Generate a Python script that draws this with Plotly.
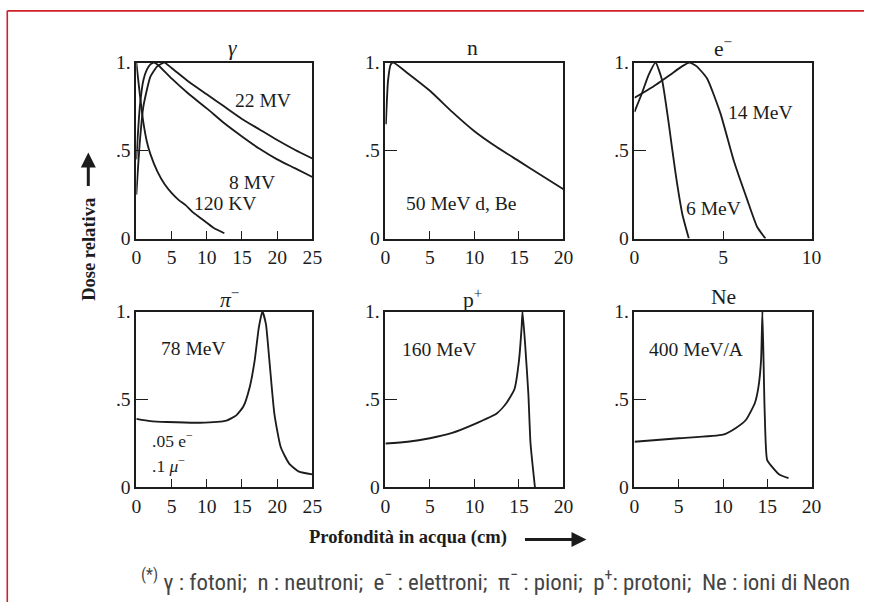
import plotly.graph_objects as go

W, H = 874, 613

# The photographed page comes out slightly scaled/shifted relative to the
# figure; these factors (measured) map figure pixels to picture pixels.
A_X, B_X = 0.9825, 4.73
A_Y, B_Y = 0.96607, 9.36
FS = 1.03  # font compensation for the scaling

# ---- data ----
g120_x = [0, 0.5, 1, 1.5, 2, 3, 4, 5, 6, 7, 8, 9, 10, 11, 12.5]
g120_y = [1.0, 0.82, 0.66, 0.55, 0.48, 0.38, 0.31, 0.26, 0.22, 0.19, 0.15, 0.12, 0.09, 0.06, 0.03]
g8_x = [0, 0.5, 1, 1.5, 2, 2.5, 3, 5, 7.5, 10, 12.5, 15, 17.5, 20, 22.5, 25]
g8_y = [0.45, 0.75, 0.9, 0.96, 0.99, 1.0, 0.99, 0.91, 0.82, 0.74, 0.655, 0.58, 0.51, 0.45, 0.40, 0.35]
g22_x = [0, 0.5, 1, 2, 3, 4, 5, 7.5, 10, 12.5, 15, 17.5, 20, 22.5, 25]
g22_y = [0.25, 0.55, 0.75, 0.92, 0.98, 1.0, 0.97, 0.89, 0.82, 0.75, 0.68, 0.62, 0.56, 0.505, 0.455]

n_x = [0.05, 0.3, 0.6, 0.9, 2.5, 5, 7.5, 10, 12.5, 15, 17.5, 20]
n_y = [0.65, 0.9, 0.99, 1.0, 0.94, 0.84, 0.72, 0.61, 0.52, 0.44, 0.36, 0.28]

e6_x = [0, 0.4, 0.8, 1.19, 1.56, 1.94, 2.32, 2.7, 3.07]
e6_y = [0.72, 0.82, 0.93, 1.0, 0.9, 0.65, 0.37, 0.14, 0.0]
e14_x = [0, 1, 2, 2.7, 3.1, 3.5, 4.1, 4.86, 5.6, 6.37, 6.93, 7.4]
e14_y = [0.80, 0.86, 0.93, 0.98, 1.0, 0.98, 0.91, 0.71, 0.445, 0.22, 0.066, 0.0]

pi_x = [0, 2, 4.4, 9, 12.8, 14.2, 15.2, 16.1, 16.8, 17.4, 17.9, 18.4, 18.9, 19.6, 20.5, 21.7, 23.1, 25]
pi_y = [0.39, 0.377, 0.372, 0.368, 0.38, 0.41, 0.46, 0.57, 0.72, 0.91, 1.0, 0.93, 0.72, 0.42, 0.23, 0.136, 0.09, 0.074]

p_x = [0, 2.5, 5, 7.5, 10, 12.5, 13.6, 14.5, 15.0, 15.3, 15.4, 15.7, 16.06, 16.3, 16.8]
p_y = [0.25, 0.26, 0.28, 0.31, 0.36, 0.42, 0.48, 0.56, 0.72, 0.91, 1.0, 0.81, 0.53, 0.25, 0.0]

ne_x = [0, 5, 10, 11.5, 12.6, 13.6, 14.0, 14.3, 14.45, 14.7, 14.98, 15.5, 16.4, 17.4]
ne_y = [0.26, 0.28, 0.30, 0.34, 0.385, 0.48, 0.57, 0.725, 1.0, 0.44, 0.157, 0.12, 0.072, 0.053]

panel_titles = ["<i>γ</i>", "n", "e<sup>−</sup>", "<i>π</i><sup>−</sup>", "p<sup>+</sup>", "Ne"]
x_ranges = [25, 20, 10, 25, 20, 20]
x_ticks = [[0, 5, 10, 15, 20, 25], [0, 5, 10, 15, 20], [0, 5, 10],
           [0, 5, 10, 15, 20, 25], [0, 5, 10, 15, 20], [0, 5, 10, 15, 20]]
y_ticks = [0, 0.5, 1]
y_tick_text = ["0", ".5", "1."]

series = [
    (1, g120_x, g120_y), (1, g8_x, g8_y), (1, g22_x, g22_y),
    (2, n_x, n_y),
    (3, e6_x, e6_y), (3, e14_x, e14_y),
    (4, pi_x, pi_y), (5, p_x, p_y), (6, ne_x, ne_y),
]

# ---- layout geometry (reference picture pixels) ----
cols = [(136, 312), (385, 563), (634, 811)]
rows = [(62, 238), (311, 487)]

def px(x):
    return ((x - B_X) / A_X) / W

def py(y):
    return 1 - ((y - B_Y) / A_Y) / H

SERIF = "Liberation Serif, DejaVu Serif, serif"
INK = "#1c1c1c"

fig = go.Figure()
for i, xs, ys in series:
    sfx = "" if i == 1 else str(i)
    fig.add_trace(go.Scatter(x=xs, y=ys, mode="lines", xaxis="x" + sfx, yaxis="y" + sfx,
                             line=dict(color=INK, width=1.85, shape="spline", smoothing=0.5),
                             showlegend=False, hoverinfo="skip"))

layout = dict(width=W, height=H, margin=dict(l=0, r=0, t=0, b=0),
              paper_bgcolor="white", plot_bgcolor="white", showlegend=False)

for k in range(6):
    r, c = divmod(k, 3)
    sfx = "" if k == 0 else str(k + 1)
    x0, x1 = cols[c]
    y0, y1 = rows[r]
    layout["xaxis" + sfx] = dict(
        domain=[px(x0), px(x1)], range=[0, x_ranges[k]], anchor="y" + sfx,
        showgrid=False, zeroline=False, showline=True, mirror=True, linecolor=INK, linewidth=1.5,
        ticks="inside", ticklen=8.3, tickwidth=1.3, tickcolor=INK,
        tickvals=x_ticks[k], ticktext=[str(v) for v in x_ticks[k]],
        tickfont=dict(family=SERIF, size=19 * FS, color=INK), fixedrange=True)
    layout["yaxis" + sfx] = dict(
        domain=[py(y1), py(y0)], range=[0, 1], anchor="x" + sfx,
        showgrid=False, zeroline=False, showline=True, mirror=True, linecolor=INK, linewidth=1.5,
        ticks="inside", ticklen=12, tickwidth=1.3, tickcolor=INK,
        tickvals=y_ticks, ticktext=y_tick_text,
        tickfont=dict(family=SERIF, size=19 * FS, color=INK), fixedrange=True)

fig.update_layout(**layout)

def note(text, x, y, size, family=SERIF, color=INK, **kw):
    d = dict(text=text, x=px(x), y=py(y), xref="paper", yref="paper", showarrow=False,
             xanchor="center", yanchor="middle",
             font=dict(family=family, size=size * FS, color=color))
    d.update(kw)
    return d

ann = []
title_pos = [(232, 47), (472, 47), (722, 47), (229, 298), (472, 298), (723, 296)]
for t, (x, y) in zip(panel_titles, title_pos):
    ann.append(note(t, x, y, 21))

labels = [("22 MV", 263, 100), ("8 MV", 252, 182), ("120 KV", 225, 203),
          ("50 MeV d, Be", 461, 203), ("14 MeV", 760, 112), ("6 MeV", 713, 208),
          ("78 MeV", 193, 348), ("160 MeV", 439, 349), ("400 MeV/A", 695, 349)]
for t, x, y in labels:
    ann.append(note(t, x, y, 19))
ann.append(note(".05 e<sup>−</sup>", 172, 440, 17))
ann.append(note(".1 <i>μ</i><sup>−</sup>", 168, 465, 17))

# axis titles
ann.append(note("<b>Dose relativa</b>", 88, 249, 18, textangle=-90))
ann.append(dict(text="", x=px(88), y=py(152), ax=0, ay=35, xref="paper", yref="paper",
                showarrow=True, arrowhead=2, arrowsize=1, arrowwidth=3, arrowcolor=INK))
ann.append(note("<b>Profondità in acqua (cm)</b>", 408, 537, 18))
ann.append(dict(text="", x=px(586), y=py(539), ax=-63, ay=0, xref="paper", yref="paper",
                showarrow=True, arrowhead=2, arrowsize=1, arrowwidth=3, arrowcolor=INK))

# footnote
ann.append(note("<sup>(*)</sup> γ : fotoni;  n : neutroni;  e<sup>−</sup> : elettroni;  π<sup>−</sup> : pioni;  p<sup>+</sup>: protoni;  Ne : ioni di Neon",
                495, 580, 22.2, family="Liberation Sans Narrow, Roboto Condensed, Arial Narrow, Roboto",
                color="#444444"))

fig.update_layout(annotations=ann)

# red frame (top and left edges)
top_y = 1 - 0.9 / H
fig.update_layout(shapes=[
    dict(type="line", xref="paper", yref="paper", x0=px(7), x1=1, y0=top_y, y1=top_y,
         line=dict(color="#d0202a", width=1.6)),
    dict(type="line", xref="paper", yref="paper", x0=px(7), x1=px(7), y0=top_y, y1=0,
         line=dict(color="#d0202a", width=1.6)),
])

fig.write_html("out.html")
